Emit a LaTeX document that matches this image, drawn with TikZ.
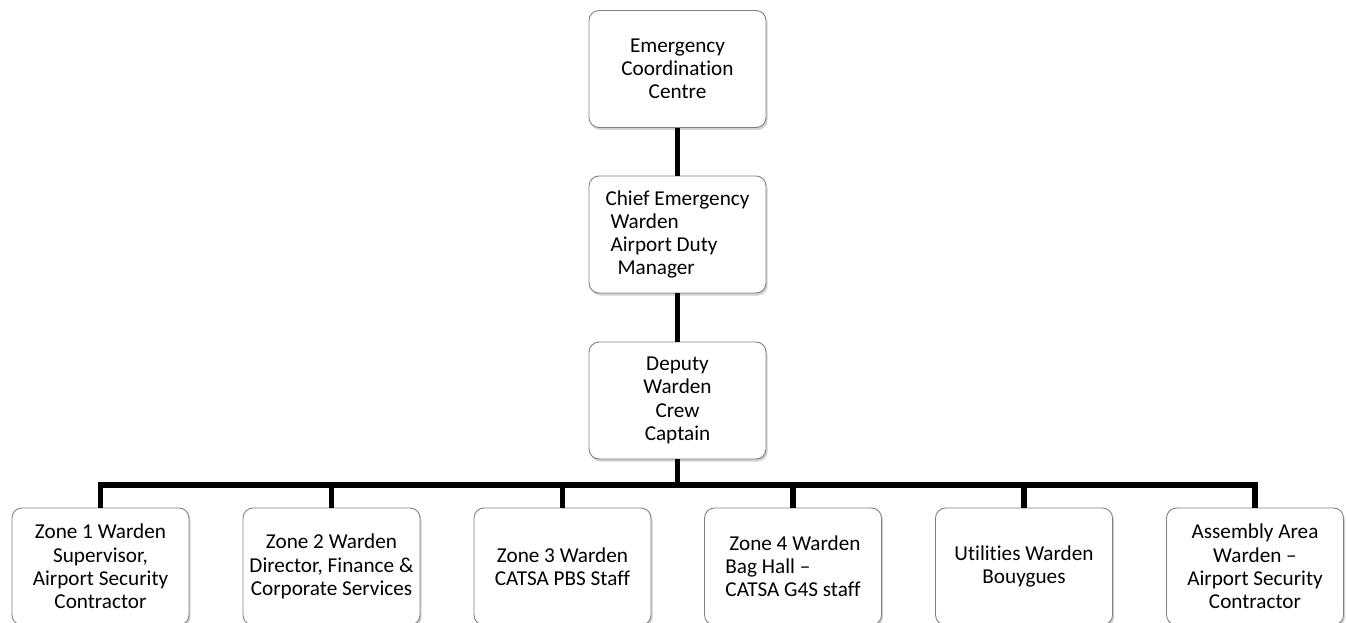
\documentclass[tikz,border=0pt]{standalone}
\usepackage{fontspec}
\setmainfont[Ligatures={NoCommon}]{Carlito}
\usetikzlibrary{shadows}
\begin{document}
\begin{tikzpicture}[x=1pt,y=-1pt,
  box/.style={draw=black!50, line width=0.9pt, rounded corners=10pt, fill=white,
    minimum width=177pt, minimum height=117pt, inner sep=0pt,
    font=\fontsize{21.2}{23.2}\selectfont, align=center,
    drop shadow={shadow xshift=1.5pt, shadow yshift=-2.5pt, opacity=0.4, fill=black!45}},
  conn/.style={line width=5.5pt, line join=miter}
]
\useasboundingbox (0,0) rectangle (1346,623);
\clip (0,0) rectangle (1346,623);
\node[box] (ecc) at (677.5,69) {\raisebox{-2pt}{\parbox{170pt}{\centering Emergency\\Coordination\\Centre}}};
\node[box, align=left] (cew) at (677.5,234.5) {Chief Emergency\\\hspace*{5pt}Warden\\\hspace*{5pt}Airport Duty\\\hspace*{12pt}Manager};
\node[box] (dep) at (677.5,400.5) {Deputy\\Warden\\Crew\\Captain};
\node[box] (z1) at (100.5,566.5) {Zone 1 Warden\\Supervisor,\\Airport Security\\Contractor};
\node[box] (z2) at (331.5,566.5) {Zone 2 Warden\\Director, Finance \&\\Corporate Services};
\node[box] (z3) at (562.5,566.5) {Zone 3 Warden\\CATSA PBS Staff};
\node[box, align=left] (z4) at (793,566.5) {\hspace*{4pt}Zone 4 Warden\\Bag Hall –\\CATSA G4S staff};
\node[box] (ut) at (1024,566.5) {Utilities Warden\\Bouygues};
\node[box] (aa) at (1255,566.5) {Assembly Area\\Warden –\\Airport Security\\Contractor};
\coordinate (bus) at (677.5,485);
\draw[conn] (ecc.south) -- (cew.north);
\draw[conn] (cew.south) -- (dep.north);
\draw[conn] (dep.south) -- (bus);
\draw[conn] (z1.north) |- (bus) -| (aa.north);
\foreach \n in {z2,z3,z4,ut}{\draw[conn] (\n.north) -- (\n.north |- bus);}
\end{tikzpicture}
\end{document}
